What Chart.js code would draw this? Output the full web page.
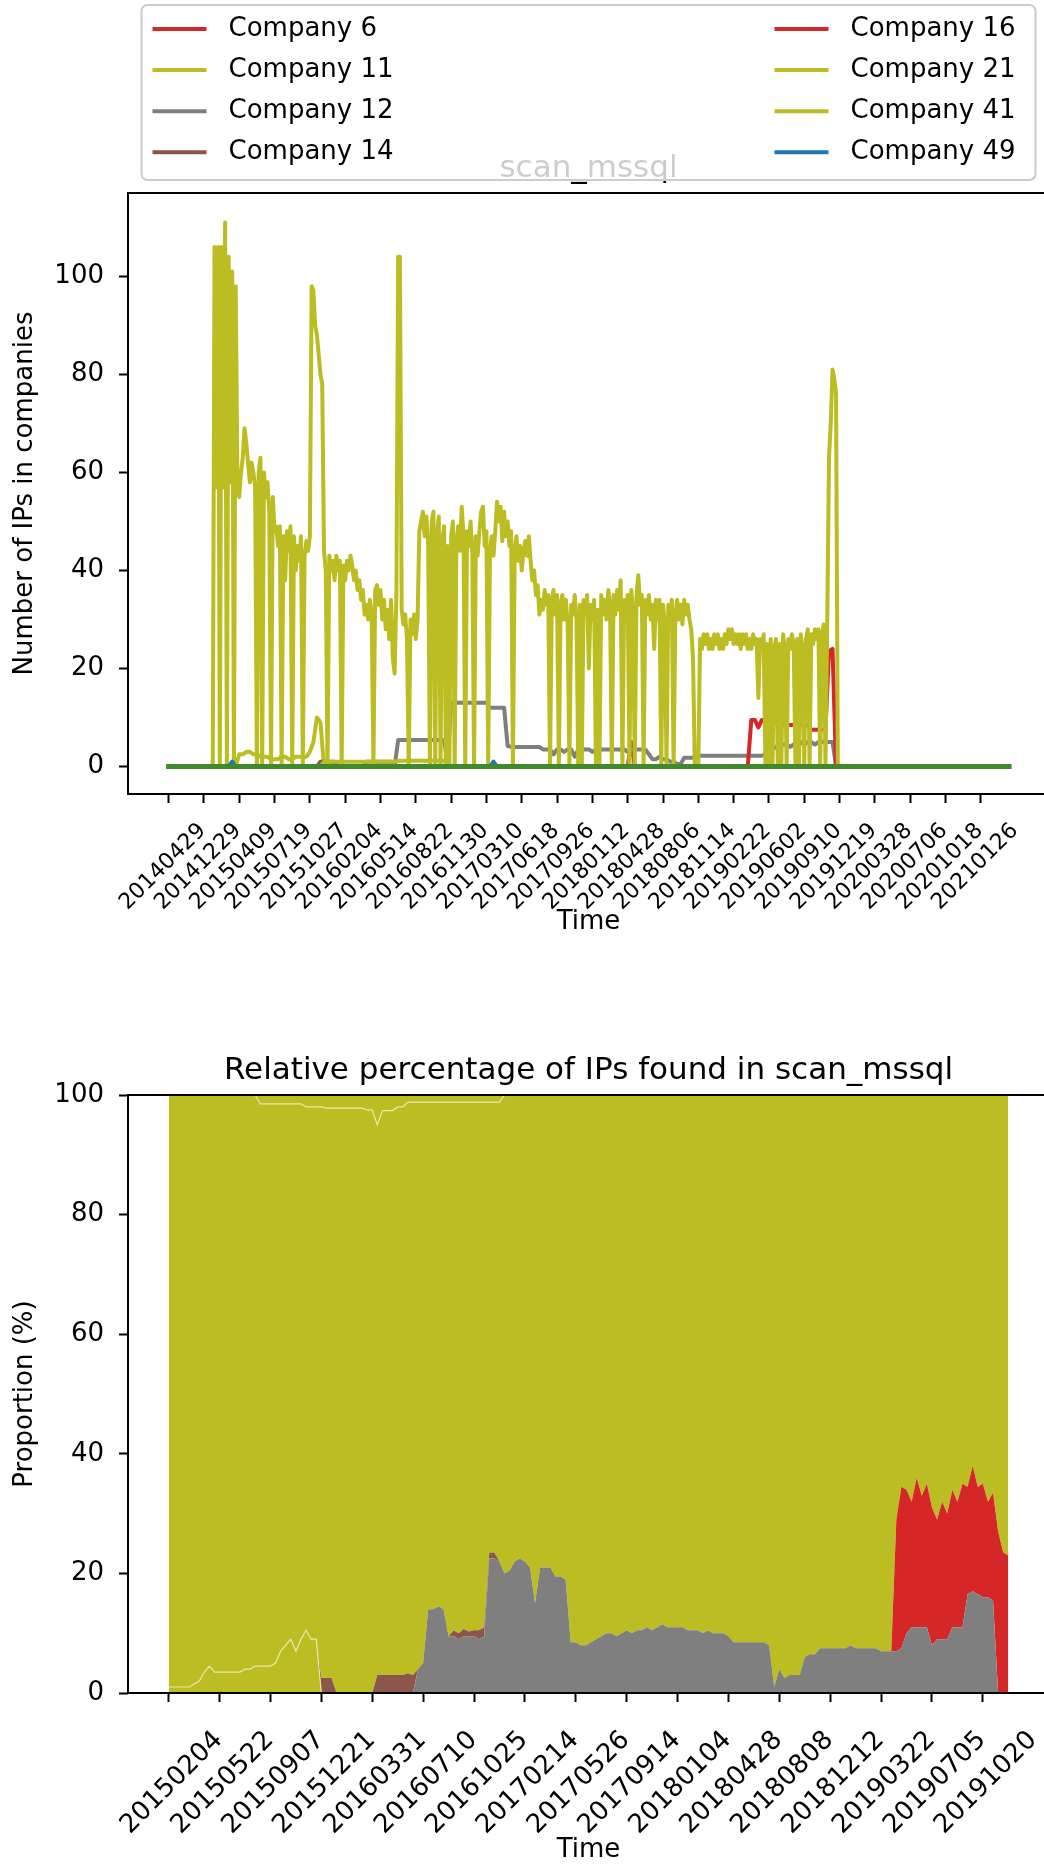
<!DOCTYPE html>
<html>
<head>
<meta charset="utf-8">
<title>scan_mssql</title>
<script src="https://cdn.jsdelivr.net/npm/chart.js@4.4.0/dist/chart.umd.min.js"></script>
<style>
  html, body { margin: 0; padding: 0; background: #fff; width: 1044px; height: 1874px; overflow: hidden; }
  .wrap { position: absolute; left: 0; width: 1080px; }
  #count-wrap { top: 0; height: 960px; }
  #share-wrap { top: 980px; height: 894px; }
</style>
</head>
<body>
<div class="wrap" id="count-wrap"><canvas id="count-chart" width="1080" height="960"></canvas></div>
<div class="wrap" id="share-wrap"><canvas id="share-chart" width="1080" height="894"></canvas></div>
<script>
// ---- data (x axis = sample number, tick label every 100 samples) ----
const SAMPLE_STEP = 10;       // most series: one reading every 10 samples
const FINE_STEP = 5;          // the noisy main series: one reading every 5 samples

// top chart
const countTickLabels = ['20140429', '20141229', '20150409', '20150719', '20151027', '20160204',
  '20160514', '20160822', '20161130', '20170310', '20170618', '20170926', '20180112', '20180428',
  '20180806', '20181114', '20190222', '20190602', '20190910', '20191219', '20200328', '20200706',
  '20201018', '20210126'];
const countYTicks = [0, 20, 40, 60, 80, 100];

// Company 21 (main olive series), readings 120, 125, ... 1900
const company21Start = 120;
const company21 = [
  0, 0, 106, 57, 106, 0, 106, 57, 111, 0,
  104, 58, 101, 0, 98, 57, 55, 60, 63, 69,
  66, 62, 58, 62, 60, 57, 0, 60, 63, 0,
  60, 55, 58, 52, 0, 55, 48, 49, 45, 49,
  0, 47, 38, 48, 44, 49, 0, 47, 40, 45,
  42, 47, 0, 43, 46, 44, 47, 98, 97, 90,
  88, 84, 80, 78, 44, 40, 0, 43, 40, 42,
  38, 43, 40, 42, 0, 41, 38, 42, 40, 43,
  41, 38, 40, 36, 38, 34, 36, 31, 33, 30,
  34, 31, 0, 36, 37, 33, 36, 30, 34, 28,
  32, 26, 34, 22, 19, 35, 104, 104, 32, 29,
  31, 26, 0, 30, 27, 31, 26, 30, 48, 50,
  52, 47, 51, 45, 0, 50, 52, 0, 47, 51,
  0, 46, 49, 0, 45, 0, 47, 50, 0, 46,
  49, 44, 53, 47, 0, 48, 45, 50, 44, 0,
  47, 43, 48, 52, 53, 45, 48, 0, 44, 47,
  43, 48, 54, 50, 53, 46, 52, 47, 50, 45,
  48, 0, 44, 47, 42, 45, 40, 44, 46, 43,
  47, 42, 38, 40, 35, 37, 31, 34, 32, 36,
  33, 35, 0, 34, 36, 31, 35, 0, 33, 35,
  30, 34, 29, 0, 33, 31, 35, 30, 0, 33,
  0, 34, 31, 35, 20, 33, 30, 34, 0, 32,
  0, 35, 31, 34, 30, 36, 33, 0, 35, 31,
  36, 32, 38, 0, 34, 31, 35, 0, 36, 32,
  0, 35, 39, 33, 35, 0, 34, 31, 35, 30,
  33, 24, 34, 30, 34, 0, 33, 29, 0, 33,
  30, 34, 0, 31, 34, 30, 33, 29, 34, 31,
  33, 30, 28, 22, 0, 0, 0, 26, 24, 27,
  25, 27, 24, 26, 24, 27, 25, 27, 24, 26,
  24, 27, 25, 28, 26, 28, 25, 27, 25, 27,
  24, 27, 25, 27, 24, 26, 24, 27, 25, 26,
  14, 26, 24, 27, 0, 25, 0, 26, 0, 24,
  26, 0, 25, 0, 27, 24, 0, 26, 24, 27,
  25, 0, 26, 0, 27, 24, 0, 26, 28, 0,
  27, 25, 28, 26, 28, 0, 27, 29, 0, 29,
  63, 70, 81, 79, 76, 0, 0
];

// Company 11 (low olive series), readings every 10 samples from 190
const company11Start = 190;
const company11 = [0, 2.5, 2.5, 3, 3, 2.5, 2.5, 2, 2, 2, 1.5, 1.5, 1.5, 2, 2, 1.5, 1.5, 2, 2, 2,
  2, 3, 5, 10, 9, 0];

// Company 41 (olive, around 1)
const company41Start = 430;
const company41 = [0, 1, 1, 1, 1, 1, 1, 1, 1, 1, 1, 1, 1, 1, 1, 1, 1, 1, 1, 1, 1, 1,
  1.2, 1.2, 1.2, 1.2, 1.2, 1.2, 1.2, 1.2, 1.2, 1.2, 1.2, 1.2, 1.2, 1.2, 1.2, 0];

// Company 12 (grey steps)
const company12Start = 640;
const company12 = [
  0, 5.4, 5.4, 5.4, 5.4, 5.4, 5.4, 5.4, 5.4, 5.4, 5.4, 5.4, 5.4, 5.4, 5.4,
  1, 13, 13, 13, 13, 13, 13, 13, 13, 13, 13, 13,
  12, 12, 12, 12, 12, 4.2, 4, 4, 4, 4, 4, 4, 4, 4, 4,
  3.5, 3.5, 3.5, 2.5, 3.5, 3.5, 3, 3.5, 3.5, 2,
  3.5, 3.5, 3.5, 3.5, 3, 3.5, 3.5, 3.5, 3.5, 3.5,
  3.5, 3.5, 3.5, 3.5, 3, 3.5, 3.5, 3.5, 3.5, 3.5,
  2.5, 1.5, 1.5, 2, 1.5, 1.5, 1, 1, 0.5, 0.5, 1.8, 1.8, 1.8, 1.8,
  2.2, 2.2, 2.2, 2.2, 2.2, 2.2, 2.2, 2.2, 2.2, 2.2, 2.2, 2.2, 2.2, 2.2, 2.2, 2.2, 2.2, 2.2, 2.2,
  2.5, 3, 3.5, 4, 4.5, 4.5, 4.5, 4, 4.5, 4.5, 5, 4.5, 5, 5, 4.5, 5, 5, 5, 5, 5,
  0
];

// Company 16 (red steps at the end)
const company16Start = 1640;
const company16 = [0, 9.5, 9.5, 8, 9.5, 9.5, 9, 9, 9, 9, 8.5, 8.5, 8.5, 8.5, 8.5, 8.5, 8.5, 8.5,
  7.5, 7.5, 7.5, 7.5, 7.5, 23.5, 24, 0];

// sparse series: sample numbers and values
const company6Idx = [1300, 1310, 1320];
const company6 = [0, 5, 0];
const company14Idx = [420, 430, 470, 480, 550, 560, 630, 640];
const company14 = [0, 1, 1, 0, 0, 1, 1, 0];
const company49Idx = [170, 180, 190, 910, 920, 930];
const company49 = [0, 1, 0, 0, 1, 0];
const othersIdx = [0, 2380];
const others = [0, 0];

// bottom chart (percent of IPs), readings at samples 0, 10, ... 1650
const shareTickLabels = ['20150204', '20150522', '20150907', '20151221', '20160331', '20160710',
  '20161025', '20170214', '20170526', '20170914', '20180104', '20180428', '20180808', '20181212',
  '20190322', '20190705', '20191020'];
const shareYTicks = [0, 20, 40, 60, 80, 100];

const shareC11 = [
  1, 1, 1, 1, 1, 1.5, 2, 3.5, 4.5, 3.5,
  3.5, 3.5, 3.5, 3.5, 3.5, 4, 4, 4.5, 4.5, 4.5,
  4.5, 5, 7, 8, 9, 7, 9, 10.5, 9, 9,
  0, 0, 0, 0, 0, 0, 0, 0, 0, 0,
  0, 0, 0, 0, 0, 0, 0, 0, 0, 0,
  0, 0, 0, 0, 0, 0, 0, 0, 0, 0,
  0, 0, 0, 0, 0, 0, 0, 0, 0, 0,
  0, 0, 0, 0, 0, 0, 0, 0, 0, 0,
  0, 0, 0, 0, 0, 0, 0, 0, 0, 0,
  0, 0, 0, 0, 0, 0, 0, 0, 0, 0,
  0, 0, 0, 0, 0, 0, 0, 0, 0, 0,
  0, 0, 0, 0, 0, 0, 0, 0, 0, 0,
  0, 0, 0, 0, 0, 0, 0, 0, 0, 0,
  0, 0, 0, 0, 0, 0, 0, 0, 0, 0,
  0, 0, 0, 0, 0, 0, 0, 0, 0, 0,
  0, 0, 0, 0, 0, 0, 0, 0, 0, 0,
  0, 0, 0, 0, 0, 0
];
const shareC12 = [
  0, 0, 0, 0, 0, 0, 0, 0, 0, 0,
  0, 0, 0, 0, 0, 0, 0, 0, 0, 0,
  0, 0, 0, 0, 0, 0, 0, 0, 0, 0,
  0, 0, 0, 0, 0, 0, 0, 0, 0, 0,
  0, 0, 0, 0, 0, 0, 0, 0, 0, 4,
  5, 14, 14, 14.5, 14, 9.5, 9.5, 9, 9.5, 9.5,
  9.5, 9, 9.5, 22.5, 22.5, 22, 20, 20.5, 22, 22.5,
  22, 21, 15, 21, 21, 21, 19.5, 19.5, 19, 8.5,
  8.5, 8, 8, 8.5, 9, 9.5, 10, 10, 9.5, 10,
  10.5, 10, 10.5, 10.5, 11, 10.5, 11, 11.5, 11, 11,
  11, 11, 10.5, 10.5, 10.5, 10, 10.5, 10, 10, 10,
  9.5, 8.5, 8.5, 8.5, 8.5, 8.5, 8.5, 8.5, 8, 1,
  4, 2.5, 3, 3, 3, 6, 6.5, 6.5, 7.5, 7.5,
  7.5, 7.5, 7.5, 7.5, 8, 7.5, 7.5, 7.5, 7.5, 7.5,
  7, 7, 7, 7, 7.5, 10, 11, 11, 11, 11,
  8, 9, 9, 9, 11, 11, 11, 16.5, 17, 16.5,
  16, 16, 15.5, 0, 0, 0
];
const shareC14 = [
  0, 0, 0, 0, 0, 0, 0, 0, 0, 0,
  0, 0, 0, 0, 0, 0, 0, 0, 0, 0,
  0, 0, 0, 0, 0, 0, 0, 0, 0, 0,
  2.5, 2.5, 2.5, 0, 0, 0, 0, 0, 0, 0,
  0, 3, 3, 3, 3, 3, 3, 3.3, 3, 0,
  0, 0, 0, 0, 0, 0, 1, 1, 1.2, 0.8,
  1, 1.5, 1.5, 1, 1, 0, 0, 0, 0, 0,
  0, 0, 0, 0, 0, 0, 0, 0, 0, 0,
  0, 0, 0, 0, 0, 0, 0, 0, 0, 0,
  0, 0, 0, 0, 0, 0, 0, 0, 0, 0,
  0, 0, 0, 0, 0, 0, 0, 0, 0, 0,
  0, 0, 0, 0, 0, 0, 0, 0, 0, 0,
  0, 0, 0, 0, 0, 0, 0, 0, 0, 0,
  0, 0, 0, 0, 0, 0, 0, 0, 0, 0,
  0, 0, 0, 0, 0, 0, 0, 0, 0, 0,
  0, 0, 0, 0, 0, 0, 0, 0, 0, 0,
  0, 0, 0, 0, 0, 0
];
const shareC16 = [
  0, 0, 0, 0, 0, 0, 0, 0, 0, 0,
  0, 0, 0, 0, 0, 0, 0, 0, 0, 0,
  0, 0, 0, 0, 0, 0, 0, 0, 0, 0,
  0, 0, 0, 0, 0, 0, 0, 0, 0, 0,
  0, 0, 0, 0, 0, 0, 0, 0, 0, 0,
  0, 0, 0, 0, 0, 0, 0, 0, 0, 0,
  0, 0, 0, 0, 0, 0, 0, 0, 0, 0,
  0, 0, 0, 0, 0, 0, 0, 0, 0, 0,
  0, 0, 0, 0, 0, 0, 0, 0, 0, 0,
  0, 0, 0, 0, 0, 0, 0, 0, 0, 0,
  0, 0, 0, 0, 0, 0, 0, 0, 0, 0,
  0, 0, 0, 0, 0, 0, 0, 0, 0, 0,
  0, 0, 0, 0, 0, 0, 0, 0, 0, 0,
  0, 0, 0, 0, 0, 0, 0, 0, 0, 0,
  0, 0, 0, 22, 27, 24, 21, 25, 22, 24,
  23, 20, 23, 21, 23, 21, 24, 18, 21, 18,
  19, 16, 18, 27, 23.5, 23
];
const shareC21 = [
  99, 99, 99, 99, 99, 98.5, 98, 96.5, 95.5, 96.5,
  96.5, 96.5, 96.5, 96.5, 96.5, 96, 96, 95.5, 94, 94,
  94, 93.5, 91.5, 90.5, 89.5, 91.5, 89.5, 87.5, 89, 89,
  95.5, 95.3, 95.3, 97.8, 97.8, 97.8, 97.8, 97.8, 97.8, 97.5,
  97.5, 92, 94.4, 94.4, 94.4, 95, 95, 95.5, 95.8, 94.8,
  93.8, 84.8, 84.8, 84.3, 84.8, 89.3, 88.3, 88.8, 88.1, 88.5,
  88.3, 88.3, 87.8, 75.3, 75.3, 76.8, 80, 79.5, 78, 77.5,
  78, 79, 85, 79, 79, 79, 80.5, 80.5, 81, 91.5,
  91.5, 92, 92, 91.5, 91, 90.5, 90, 90, 90.5, 90,
  89.5, 90, 89.5, 89.5, 89, 89.5, 89, 88.5, 89, 89,
  89, 89, 89.5, 89.5, 89.5, 90, 89.5, 90, 90, 90,
  90.5, 91.5, 91.5, 91.5, 91.5, 91.5, 91.5, 91.5, 92, 99,
  96, 97.5, 97, 97, 97, 94, 93.5, 93.5, 92.5, 92.5,
  92.5, 92.5, 92.5, 92.5, 92, 92.5, 92.5, 92.5, 92.5, 92.5,
  93, 93, 93, 71, 65.5, 66, 68, 64, 67, 65,
  69, 71, 68, 70, 66, 68, 65, 65.5, 62, 65.5,
  65, 68, 66.5, 73, 76.5, 77
];
const shareC41 = [
  0, 0, 0, 0, 0, 0, 0, 0, 0, 0,
  0, 0, 0, 0, 0, 0, 0, 0, 1.5, 1.5,
  1.5, 1.5, 1.5, 1.5, 1.5, 1.5, 1.5, 2, 2, 2,
  2, 2.2, 2.2, 2.2, 2.2, 2.2, 2.2, 2.2, 2.2, 2.5,
  2.5, 5, 2.6, 2.6, 2.6, 2, 2, 1.2, 1.2, 1.2,
  1.2, 1.2, 1.2, 1.2, 1.2, 1.2, 1.2, 1.2, 1.2, 1.2,
  1.2, 1.2, 1.2, 1.2, 1.2, 1.2, 0, 0, 0, 0,
  0, 0, 0, 0, 0, 0, 0, 0, 0, 0,
  0, 0, 0, 0, 0, 0, 0, 0, 0, 0,
  0, 0, 0, 0, 0, 0, 0, 0, 0, 0,
  0, 0, 0, 0, 0, 0, 0, 0, 0, 0,
  0, 0, 0, 0, 0, 0, 0, 0, 0, 0,
  0, 0, 0, 0, 0, 0, 0, 0, 0, 0,
  0, 0, 0, 0, 0, 0, 0, 0, 0, 0,
  0, 0, 0, 0, 0, 0, 0, 0, 0, 0,
  0, 0, 0, 0, 0, 0, 0, 0, 0, 0,
  0, 0, 0, 0, 0, 0
];

// ---- styles ----
const RED = '#d62728', OLIVE = '#bcbd22', GRAY = '#7f7f7f', BROWN = '#8c564b',
      BLUE = '#1f77b4', GREEN = '#3d8b2d', SEAM = 'rgba(236,236,190,0.9)';
const FONT = { family: '"DejaVu Sans"', size: 26 };
const SMALL_FONT = { family: '"DejaVu Sans"', size: 22 };
const TITLE_FONT = '31px "DejaVu Sans"';

function stepSeries(start, values, step) {
  return values.map((v, i) => ({ x: start + i * (step || SAMPLE_STEP), y: v }));
}
function pairSeries(idx, values) {
  return values.map((v, i) => ({ x: idx[i], y: v }));
}

// rounded box helper for the legend frame
function roundBox(ctx, x, y, w, h, r) {
  ctx.beginPath();
  ctx.moveTo(x + r, y);
  ctx.arcTo(x + w, y, x + w, y + h, r);
  ctx.arcTo(x + w, y + h, x, y + h, r);
  ctx.arcTo(x, y + h, x, y, r);
  ctx.arcTo(x, y, x + w, y, r);
  ctx.closePath();
}

// spines, title and (for the top chart) the legend box
const decorPlugin = {
  id: 'decor',
  afterDatasetsDraw(chart) {
    const { ctx, chartArea: a } = chart;
    ctx.save();
    ctx.strokeStyle = '#000';
    ctx.lineWidth = 2;
    ctx.strokeRect(a.left, a.top, a.right - a.left, a.bottom - a.top);
    ctx.restore();
  },
  afterDraw(chart, args, opts) {
    const { ctx, chartArea: a } = chart;
    const cx = (a.left + a.right) / 2;
    ctx.save();
    ctx.font = TITLE_FONT;
    ctx.fillStyle = '#000';
    ctx.textAlign = 'center';
    ctx.textBaseline = 'alphabetic';
    ctx.fillText(opts.title, cx, a.top - 16);

    if (opts.legend) {
      const w = 894, h = 175, x = cx - w / 2, y = 5;
      roundBox(ctx, x, y, w, h, 6);
      ctx.fillStyle = 'rgba(255,255,255,0.8)';
      ctx.fill();
      ctx.strokeStyle = '#cccccc';
      ctx.lineWidth = 2;
      ctx.stroke();

      const sets = chart.data.datasets.filter(d => opts.legend.includes(d.label));
      ctx.font = FONT.size + 'px ' + FONT.family;
      ctx.textAlign = 'left';
      ctx.textBaseline = 'middle';
      sets.forEach((d, i) => {
        const col = Math.floor(i / 4), row = i % 4;
        const hx = x + 11 + col * 622;
        const hy = y + 24 + row * 41.1;
        ctx.strokeStyle = d.borderColor;
        ctx.lineWidth = 4;
        ctx.beginPath();
        ctx.moveTo(hx, hy);
        ctx.lineTo(hx + 54, hy);
        ctx.stroke();
        ctx.fillStyle = '#000';
        ctx.fillText(d.label, hx + 76, hy);
      });
    }
    ctx.restore();
  }
};

function axisX(min, max, labels, height, titlePad, tickFont, tickPad, tickShift) {
  return {
    type: 'linear', min: min, max: max,
    afterBuildTicks: s => { s.ticks = labels.map((_, i) => ({ value: i * 100 })); },
    afterFit: s => { s.height = height; },
    ticks: {
      autoSkip: false, minRotation: 45, maxRotation: 45, labelOffset: tickShift, padding: tickPad,
      font: tickFont, color: '#000',
      callback: v => labels[Math.round(v / 100)]
    },
    grid: { drawOnChartArea: false, tickLength: 9, tickWidth: 2, tickColor: '#000' },
    border: { display: false },
    title: { display: true, text: 'Time', font: FONT, color: '#000', padding: { top: 0, bottom: titlePad } }
  };
}
function axisY(min, max, ticks, title, stacked) {
  return {
    type: 'linear', min: min, max: max, stacked: stacked,
    afterBuildTicks: s => { s.ticks = ticks.map(v => ({ value: v })); },
    afterFit: s => { s.width = 128; },
    ticks: { font: FONT, color: '#000', padding: 15 },
    grid: { drawOnChartArea: false, tickLength: 9, tickWidth: 2, tickColor: '#000' },
    border: { display: false },
    title: { display: true, text: title, font: FONT, color: '#000', padding: { top: 10, bottom: 0 } }
  };
}

// ---- top chart: number of IPs ----
const countSeries = [
  ['Company 6', RED, pairSeries(company6Idx, company6)],
  ['Company 11', OLIVE, stepSeries(company11Start, company11)],
  ['Company 12', GRAY, stepSeries(company12Start, company12)],
  ['Company 14', BROWN, pairSeries(company14Idx, company14)],
  ['Company 16', RED, stepSeries(company16Start, company16)],
  ['Company 21', OLIVE, stepSeries(company21Start, company21, FINE_STEP)],
  ['Company 41', OLIVE, stepSeries(company41Start, company41)],
  ['Company 49', BLUE, pairSeries(company49Idx, company49)],
  ['Other companies', GREEN, pairSeries(othersIdx, others)]
];
const countDatasets = countSeries.map(([label, color, data], i) => ({
  label: label, data: data, borderColor: color, backgroundColor: color,
  borderWidth: label === 'Other companies' ? 5 : 4,
  borderJoinStyle: 'round', borderCapStyle: 'square',
  pointRadius: 0, fill: false, tension: 0,
  order: countSeries.length - i      // later series drawn on top
}));

new Chart(document.getElementById('count-chart'), {
  type: 'line',
  data: { datasets: countDatasets },
  options: {
    responsive: false, animation: false, events: [], devicePixelRatio: 1,
    layout: { padding: { top: 193, right: 31, bottom: 0, left: 0 } },
    plugins: {
      legend: { display: false }, tooltip: { enabled: false },
      decor: {
        title: 'scan_mssql',
        legend: ['Company 6', 'Company 11', 'Company 12', 'Company 14',
                 'Company 16', 'Company 21', 'Company 41', 'Company 49']
      }
    },
    scales: {
      x: axisX(-115, 2493, countTickLabels, 166, 22, SMALL_FONT, 15, 34),
      y: axisY(-5.6, 117, countYTicks, 'Number of IPs in companies', false)
    }
  },
  plugins: [decorPlugin]
});

// ---- bottom chart: relative percentage (stacked areas) ----
// the light seams between two olive layers are the top edges of Company 11 and Company 21
const shareLayers = [
  { label: 'Company 11', color: OLIVE, values: shareC11, fill: 'origin', edge: SEAM },
  { label: 'Company 12', color: GRAY, values: shareC12, fill: '-1' },
  { label: 'Company 14', color: BROWN, values: shareC14, fill: '-1' },
  { label: 'Company 16', color: RED, values: shareC16, fill: '-1' },
  { label: 'Company 21', color: OLIVE, values: shareC21, fill: '-1', edge: SEAM },
  { label: 'Company 41', color: OLIVE, values: shareC41, fill: '-1' }
];
const shareDatasets = shareLayers.map(l => ({
  label: l.label, data: stepSeries(0, l.values),
  backgroundColor: l.color, borderColor: l.edge || 'rgba(0,0,0,0)', borderWidth: 1.2,
  fill: l.fill, pointRadius: 0, tension: 0
}));

new Chart(document.getElementById('share-chart'), {
  type: 'line',
  data: { datasets: shareDatasets },
  options: {
    responsive: false, animation: false, events: [], devicePixelRatio: 1,
    layout: { padding: { top: 115, right: 31, bottom: 0, left: 0 } },
    plugins: {
      legend: { display: false }, tooltip: { enabled: false },
      filler: { propagate: false, drawTime: 'beforeDatasetsDraw' },
      decor: { title: 'Relative percentage of IPs found in scan_mssql' }
    },
    scales: {
      x: axisX(-80, 1730, shareTickLabels, 181, 8, FONT, 23, 50),
      y: axisY(0, 100, shareYTicks, 'Proportion (%)', true)
    }
  },
  plugins: [decorPlugin]
});
</script>
</body>
</html>
